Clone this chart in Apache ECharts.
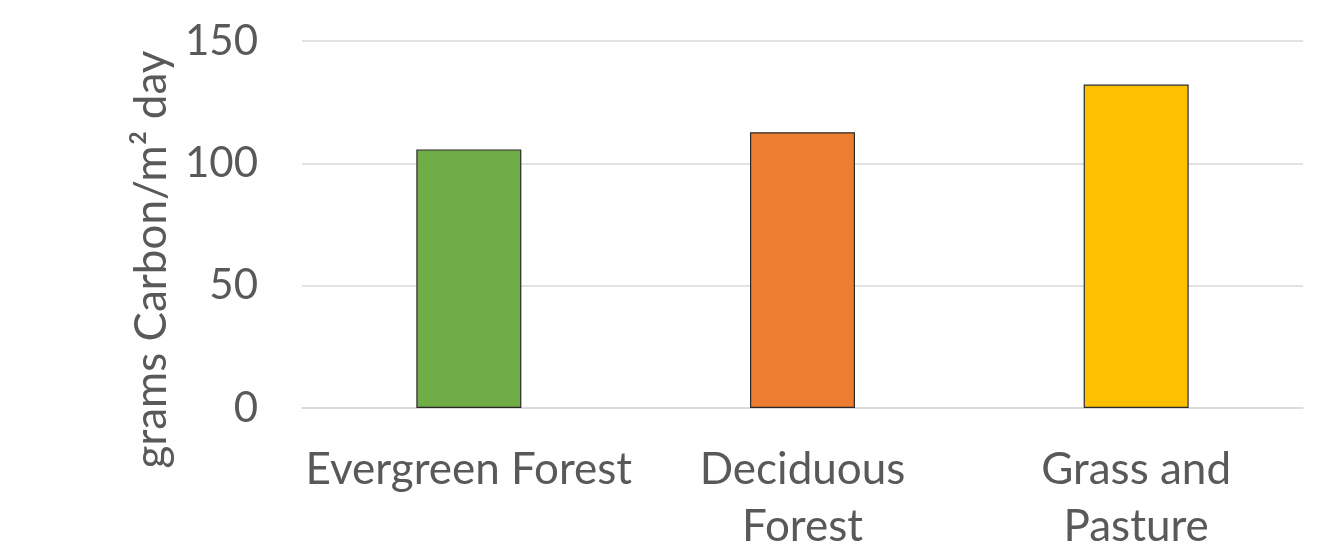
<!DOCTYPE html>
<html><head><meta charset="utf-8">
<script src="https://cdn.jsdelivr.net/npm/echarts@6/dist/echarts.min.js"></script>
<style>html,body{margin:0;padding:0;background:#fff}#c{width:1327px;height:546px}</style>
</head><body><div id="c"></div>
<script>
const categories = ['Evergreen Forest', 'Deciduous\nForest', 'Grass and\nPasture'];
const values = [105.7, 112.7, 132.2];
const barColors = ['#70AD47', '#ED7D31', '#FFC000'];
const yTicks = [0, 50, 100, 150];
const yAxisTitle = 'grams Carbon/m\u00B2 day';

const FONT = 'Lato';
const chart = echarts.init(document.getElementById('c'), null, {renderer: 'canvas'});
chart.setOption({
  animation: false,
  backgroundColor: '#fff',
  grid: {left: 302, right: 24, top: 41, bottom: 138, containLabel: false, outerBoundsMode: 'none'},
  xAxis: {
    type: 'category',
    data: categories,
    axisLine: {show: true, lineStyle: {color: '#d9d9d9', width: 1.5}},
    axisTick: {show: false},
    axisLabel: {color: '#595959', fontFamily: FONT, fontSize: 44, lineHeight: 57, margin: 33, interval: 0}
  },
  yAxis: {
    type: 'value',
    min: yTicks[0], max: yTicks[yTicks.length - 1], interval: 50,
    name: yAxisTitle,
    nameLocation: 'middle',
    nameRotate: 90,
    nameGap: 126,
    nameTextStyle: {color: '#595959', fontFamily: FONT, fontSize: 44, padding: [0, 70, 0, 0]},
    axisLine: {show: false},
    axisTick: {show: false},
    axisLabel: {color: '#595959', fontFamily: FONT, fontSize: 42, margin: 44},
    splitLine: {lineStyle: {color: '#d9d9d9', width: 1.5}}
  },
  series: [{
    type: 'bar',
    barWidth: 105,
    data: values.map((v, i) => ({value: v, itemStyle: {color: barColors[i]}})),
    itemStyle: {borderColor: '#2a2a2a', borderWidth: 1.2}
  }]
});
</script></body></html>
